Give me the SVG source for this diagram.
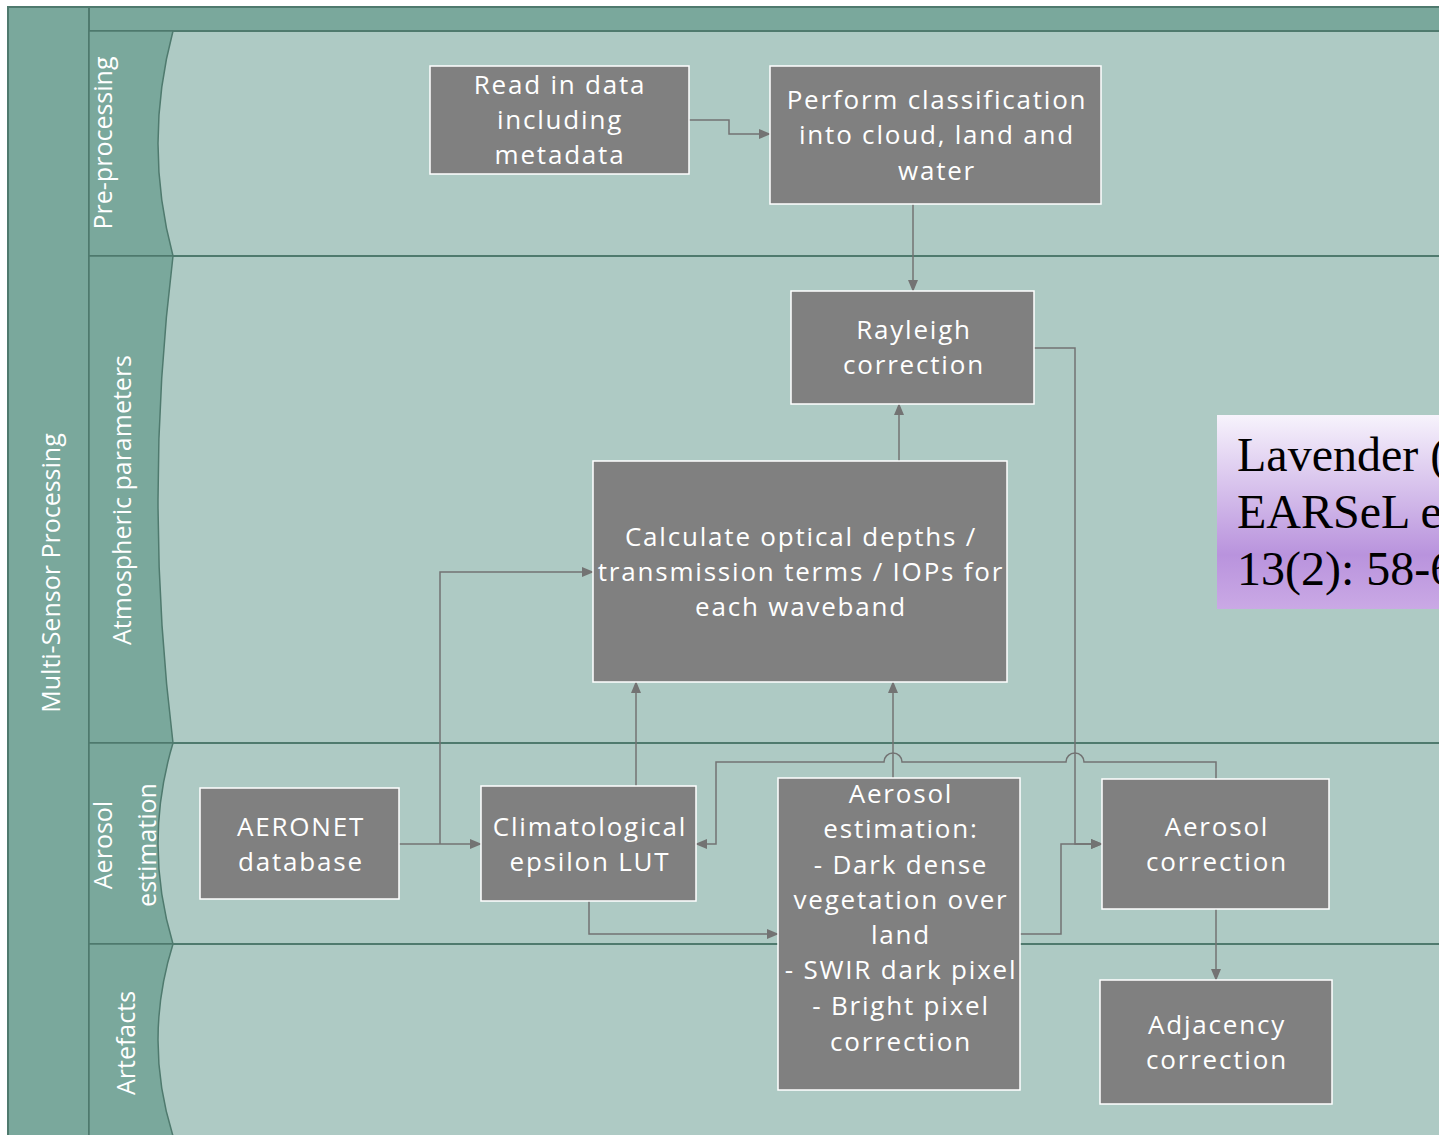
<svg xmlns="http://www.w3.org/2000/svg" width="1439" height="1135" viewBox="0 0 1439 1135">
<defs>
<style>
.pool{fill:#7aa89c;stroke:#4f7a6e;stroke-width:2}
.lane{fill:#aecac4;stroke:#4f7a6e;stroke-width:2}
.hdr{fill:#7aa89c;stroke:#4f7a6e;stroke-width:1.5}
.box{fill:#808080;stroke:#ffffff;stroke-width:1.5}
.t{font-family:"Open Sans","DejaVu Sans",sans-serif;font-size:26px;fill:#ffffff;text-anchor:middle;letter-spacing:1.8px}
.lt{font-family:"Open Sans","DejaVu Sans",sans-serif;font-size:25px;fill:#ffffff;text-anchor:middle}
.c{fill:none;stroke:#737373;stroke-width:1.5}
</style>
<marker id="ah" markerWidth="12" markerHeight="10" refX="11" refY="5" orient="auto" markerUnits="userSpaceOnUse">
<path d="M0,0 L12,5 L0,10 Z" fill="#737373"/>
</marker>
<linearGradient id="lav" x1="0" y1="0" x2="0" y2="1">
<stop offset="0" stop-color="#f7f3fc"/>
<stop offset="0.72" stop-color="#b993dd"/>
<stop offset="1" stop-color="#caa9e5"/>
</linearGradient>
</defs>

<g id="pool">
<rect class="pool" x="8" y="7" width="1440" height="1140"/>
<rect class="pool" x="89" y="7" width="1360" height="24"/>
<text class="lt" transform="translate(60,573) rotate(-90)">Multi-Sensor Processing</text>
</g>

<g id="lane-preprocessing">
<rect class="lane" x="89" y="31" width="1360" height="225"/>
<path class="hdr" d="M89,31 L173,31 Q143,143.5 173,256 L89,256 Z"/>
<text class="lt" transform="translate(112,143) rotate(-90)">Pre-processing</text>
</g>
<g id="lane-atmospheric">
<rect class="lane" x="89" y="256" width="1360" height="487"/>
<path class="hdr" d="M89,256 L173,256 Q143,499.5 173,743 L89,743 Z"/>
<text class="lt" transform="translate(131,500) rotate(-90)">Atmospheric parameters</text>
</g>
<g id="lane-aerosol">
<rect class="lane" x="89" y="743" width="1360" height="201"/>
<path class="hdr" d="M89,743 L173,743 Q143,843.5 173,944 L89,944 Z"/>
<text class="lt" transform="translate(112,845) rotate(-90)">Aerosol</text>
<text class="lt" transform="translate(156,845) rotate(-90)">estimation</text>
</g>
<g id="lane-artefacts">
<rect class="lane" x="89" y="944" width="1360" height="200"/>
<path class="hdr" d="M89,944 L173,944 Q143,1040 173,1136 L89,1136 Z"/>
<text class="lt" transform="translate(135,1043) rotate(-90)">Artefacts</text>
</g>

<g id="connectors">
<polyline class="c" points="689,120 729,120 729,134 770,134" marker-end="url(#ah)"/>
<polyline class="c" points="913,204 913,291" marker-end="url(#ah)"/>
<polyline class="c" points="899,461 899,404" marker-end="url(#ah)"/>
<polyline class="c" points="1034,348 1075,348 1075,844 1102,844" marker-end="url(#ah)"/>
<path class="c" d="M1216,779 L1216,762 L1084,762 A9,9 0 0 0 1066,762 L902,762 A9,9 0 0 0 884,762 L716,762 L716,844 L696,844" marker-end="url(#ah)"/>
<polyline class="c" points="399,844 481,844" marker-end="url(#ah)"/>
<polyline class="c" points="440,844 440,572 593,572" marker-end="url(#ah)"/>
<polyline class="c" points="636,786 636,682" marker-end="url(#ah)"/>
<polyline class="c" points="893,778 893,682" marker-end="url(#ah)"/>
<polyline class="c" points="589,901 589,934 778,934" marker-end="url(#ah)"/>
<polyline class="c" points="1020,934 1061,934 1061,844 1102,844" marker-end="url(#ah)"/>
<polyline class="c" points="1216,909 1216,980" marker-end="url(#ah)"/>
</g>

<g id="read-data">
<rect class="box" x="430" y="66" width="259" height="108"/>
<text class="t" x="560" y="94">Read in data</text>
<text class="t" x="560" y="129">including</text>
<text class="t" x="560" y="164">metadata</text>
</g>
<g id="classification">
<rect class="box" x="770" y="66" width="331" height="138"/>
<text class="t" x="937" y="109">Perform classification</text>
<text class="t" x="937" y="144">into cloud, land and</text>
<text class="t" x="937" y="180">water</text>
</g>
<g id="rayleigh">
<rect class="box" x="791" y="291" width="243" height="113"/>
<text class="t" x="914" y="339">Rayleigh</text>
<text class="t" x="914" y="374">correction</text>
</g>
<g id="optical-depths">
<rect class="box" x="593" y="461" width="414" height="221"/>
<text class="t" x="801" y="546">Calculate optical depths /</text>
<text class="t" x="801" y="581">transmission terms / IOPs for</text>
<text class="t" x="801" y="616">each waveband</text>
</g>
<g id="aeronet">
<rect class="box" x="200" y="788" width="199" height="111"/>
<text class="t" x="301" y="836">AERONET</text>
<text class="t" x="301" y="871">database</text>
</g>
<g id="climatological">
<rect class="box" x="481" y="786" width="215" height="115"/>
<text class="t" x="590" y="836">Climatological</text>
<text class="t" x="590" y="871">epsilon LUT</text>
</g>
<g id="aerosol-estimation">
<rect class="box" x="778" y="778" width="242" height="312"/>
<text class="t" x="901" y="803">Aerosol</text>
<text class="t" x="901" y="838">estimation:</text>
<text class="t" x="901" y="874">- Dark dense</text>
<text class="t" x="901" y="909">vegetation over</text>
<text class="t" x="901" y="944">land</text>
<text class="t" x="901" y="979">- SWIR dark pixel</text>
<text class="t" x="901" y="1015">- Bright pixel</text>
<text class="t" x="901" y="1051">correction</text>
</g>
<g id="aerosol-correction">
<rect class="box" x="1102" y="779" width="227" height="130"/>
<text class="t" x="1217" y="836">Aerosol</text>
<text class="t" x="1217" y="871">correction</text>
</g>
<g id="adjacency">
<rect class="box" x="1100" y="980" width="232" height="124"/>
<text class="t" x="1217" y="1034">Adjacency</text>
<text class="t" x="1217" y="1069">correction</text>
</g>
<g id="citation">
<rect x="1217" y="415" width="240" height="194" fill="url(#lav)"/>
<g font-family="Liberation Serif, serif" font-size="48" fill="#000000">
<text x="1237" y="471">Lavender (</text>
<text x="1237" y="528">EARSeL e</text>
<text x="1237" y="585">13(2): 58-6</text>
</g>
</g>
</svg>
